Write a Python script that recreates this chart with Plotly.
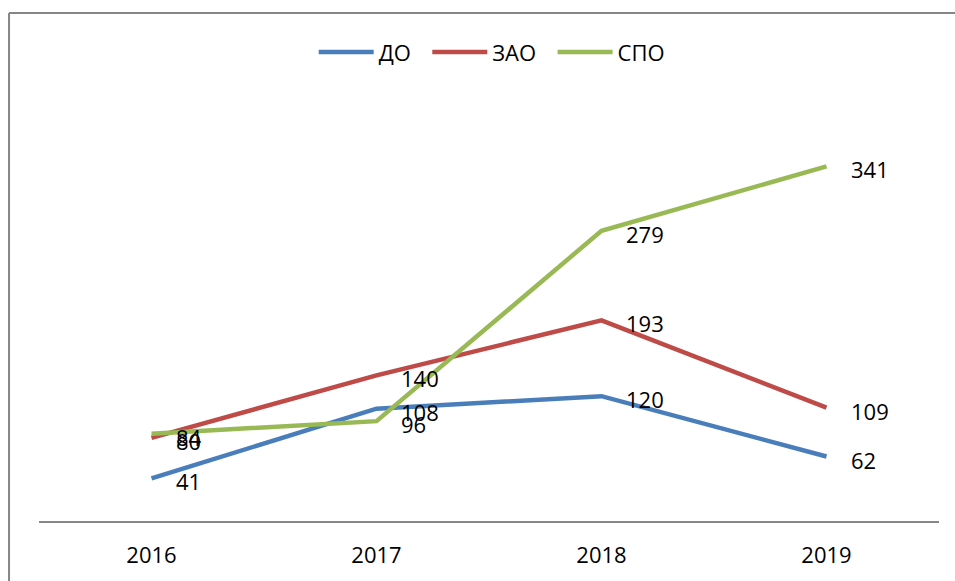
import plotly.graph_objects as go

years = ["2016", "2017", "2018", "2019"]
do_vals = [41, 108, 120, 62]
zao_vals = [80, 140, 193, 109]
spo_vals = [84, 96, 279, 341]

series = [
    ("ДО", do_vals, "#4A7EBB"),
    ("ЗАО", zao_vals, "#BE4B48"),
    ("СПО", spo_vals, "#98B954"),
]

FONT = "Open Sans"
fig = go.Figure()
annotations = []
for name, vals, color in series:
    fig.add_trace(go.Scatter(
        x=years, y=vals, name=name + ("" if name == "СПО" else "\u00a0\u00a0"),
        mode="lines", line=dict(color=color, width=4.5),
    ))
    for i, v in enumerate(vals):
        annotations.append(dict(
            x=i, y=v, xref="x", yref="y", text=str(v), showarrow=False,
            xanchor="left", yanchor="middle", xshift=22, yshift=-3,
            font=dict(family=FONT, size=22, color="#000000"),
        ))

border = dict(color="#868686", width=2)
fig.update_layout(
    width=955, height=581,
    margin=dict(l=39, r=16, t=105, b=60),
    paper_bgcolor="white", plot_bgcolor="white",
    showlegend=True,
    legend=dict(
        orientation="h", x=0.503, xanchor="center", y=1.127, yanchor="middle",
        font=dict(family=FONT, size=22, color="#000000"),
        itemwidth=55,
    ),
    xaxis=dict(
        type="category", range=[-0.5, 3.5], showgrid=False, zeroline=False,
        showline=True, linecolor="#868686", linewidth=2,
        ticks="outside", ticklen=14, tickcolor="rgba(0,0,0,0)",
        tickfont=dict(family=FONT, size=22, color="#000000"),
    ),
    yaxis=dict(
        range=[0, 400], showgrid=False, zeroline=False, showline=False,
        showticklabels=False, ticks="",
    ),
    annotations=annotations,
    shapes=[
        dict(type="line", xref="paper", yref="paper",
             x0=-0.0333, x1=-0.0333, y0=-0.3, y1=1.221, line=border),
        dict(type="line", xref="paper", yref="paper",
             x0=-0.0333, x1=1.1, y0=1.221, y1=1.221, line=border),
    ],
)

fig.write_html(
    "out.html",
    config={"displayModeBar": False},
    post_script=(
        "document.body.style.margin='0';"
        "document.body.style.overflow='hidden';"
        "document.documentElement.style.overflow='hidden';"
    ),
)
